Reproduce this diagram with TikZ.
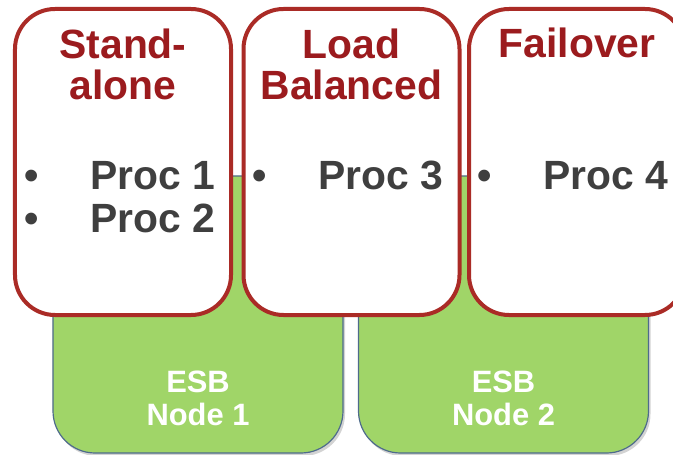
\documentclass[tikz,border=0pt]{standalone}
\usepackage{fontspec}
\setmainfont{Liberation Sans}
\usepackage{xcolor}
\usepackage{tikz}
\usetikzlibrary{shadows}
\definecolor{bg}{HTML}{FFFFFF}
\definecolor{esbgreen}{HTML}{A0D568}
\definecolor{esbline}{HTML}{4E6B8C}
\definecolor{modered}{HTML}{AA2B26}
\definecolor{titlered}{HTML}{9B1B1E}
\definecolor{proctext}{HTML}{3F3F3F}
\tikzset{
  esbbox/.style={draw=esbline, fill=esbgreen, line width=1.2pt, rounded corners=42bp,
    minimum width=290bp, minimum height=277bp, inner sep=0pt,
    drop shadow={shadow xshift=2bp, shadow yshift=-3bp, opacity=0.35}},
  modebox/.style={draw=modered, fill=bg, line width=4bp, rounded corners=40bp,
    minimum width=216bp, minimum height=306bp, inner sep=0pt},
  ttl/.style={text=titlered, font=\bfseries\fontsize{41}{42}\selectfont, align=center, inner sep=0pt, anchor=base},
  proc/.style={text=proctext, font=\bfseries\fontsize{41}{43}\selectfont, inner sep=0pt, anchor=base west},
  blt/.style={text=proctext, font=\bfseries\fontsize{41}{43}\selectfont, inner sep=0pt, anchor=base},
  esblab/.style={text=white, font=\bfseries\fontsize{31}{33}\selectfont, align=center, inner sep=0pt, anchor=base}
}
\begin{document}
\begin{tikzpicture}[x=1bp,y=-1bp]
  \useasboundingbox (0,0) rectangle (673,455);
  % ESB nodes
  \node[esbbox] (esb1) at (198,314.5) {};
  \node[esbbox] (esb2) at (503.5,314.5) {};
  \node[esblab] (esb1lab) at (198,425) {ESB\\Node 1};
  \node[esblab] (esb2lab) at (503.5,425) {ESB\\Node 2};
  % modes
  \node[modebox] (alone) at (123,162) {};
  \node[modebox] (balanced) at (351.5,162) {};
  \node[modebox] (failover) at (577,162) {};
  \node[ttl] (alonettl) at (123,100) {Stand-\\alone};
  \node[ttl] (balancedttl) at (351.5,100) {Load\\Balanced};
  \node[ttl] (failoverttl) at (577,58) {Failover};
  % processes
  \node[blt] (b1) at (32,190) {•};
  \node[proc] (p1) at (90,190) {Proc 1};
  \node[blt] (b2) at (32,233) {•};
  \node[proc] (p2) at (90,233) {Proc 2};
  \node[blt] (b3) at (260,190) {•};
  \node[proc] (p3) at (318,190) {Proc 3};
  \node[blt] (b4) at (485,190) {•};
  \node[proc] (p4) at (543,190) {Proc 4};
\end{tikzpicture}
\end{document}
